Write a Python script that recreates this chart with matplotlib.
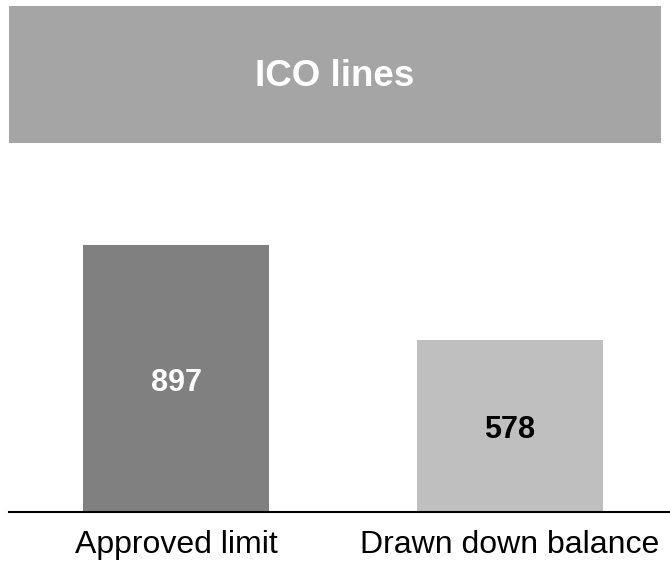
import matplotlib
matplotlib.use("Agg")
import matplotlib.pyplot as plt
from matplotlib.patches import Rectangle

categories = ["Approved limit", "Drawn down balance"]
values = [897, 578]
bar_colors = ["#808080", "#bfbfbf"]
label_colors = ["white", "black"]
title = "ICO lines"

W, H = 670, 561
fig = plt.figure(figsize=(W / 100, H / 100), dpi=100)
plt.rcParams['font.family'] = ['Liberation Sans', 'DejaVu Sans']

def fx(px): return px / W
def fy(py): return 1 - py / H

# Title band
fig.patches.append(Rectangle((fx(9), fy(143)), fx(661) - fx(9), fy(6) - fy(143),
                             transform=fig.transFigure, facecolor="#a5a5a5",
                             edgecolor="none", zorder=0))
fig.text(fx(335), fy(77), title, ha="center", va="center", color="white",
         fontsize=26.5, fontweight="bold", family=['Liberation Sans', 'DejaVu Sans'])

left, right, top, bottom = 9, 670, 245, 512
ax = fig.add_axes([fx(left), fy(bottom), fx(right) - fx(left), fy(top) - fy(bottom)])
x = list(range(len(categories)))
bars = ax.bar(x, values, width=0.557, color=bar_colors, zorder=2)
ax.set_xlim(-0.5, 1.479)
ax.set_ylim(0, max(values))
for spine in ["top", "right", "left"]:
    ax.spines[spine].set_visible(False)
ax.spines["bottom"].set_linewidth(1.5)
ax.spines["bottom"].set_color("black")
ax.set_yticks([])
ax.set_xticks(x)
ax.set_xticklabels(categories, fontsize=23)
ax.tick_params(axis="x", length=0, pad=13)
ax.patch.set_visible(False)
for b, v, c in zip(bars, values, label_colors):
    ax.annotate(str(v), (b.get_x() + b.get_width() / 2, v / 2),
                xytext=(0, -3), textcoords="offset points",
                ha="center", va="center", color=c, fontsize=22, fontweight="bold")

fig.savefig("out.png", dpi=100)
